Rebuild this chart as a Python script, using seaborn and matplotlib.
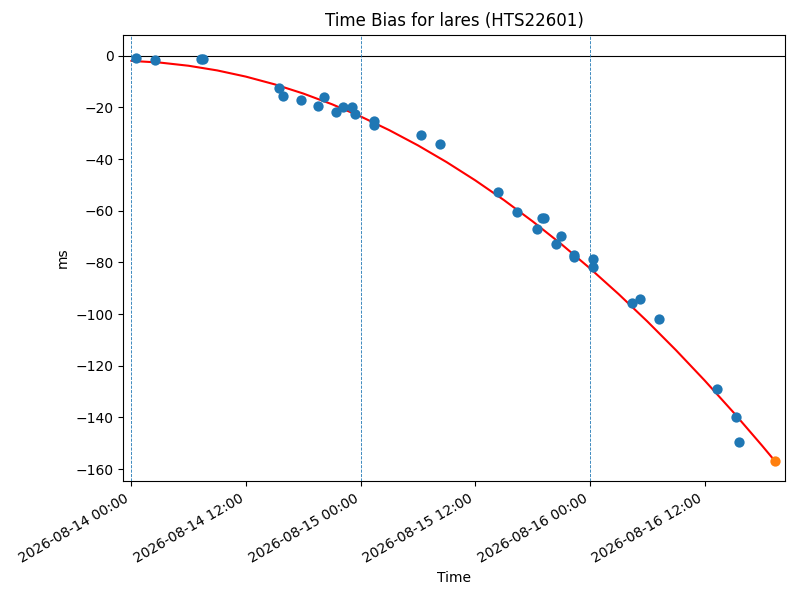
import pandas as pd
import seaborn as sns
import matplotlib
matplotlib.use("Agg")
import matplotlib.pyplot as plt
import matplotlib.dates as mdates

start = pd.Timestamp("2026-08-14 00:00")

# measured time bias (hours after start, ms)
obs_hours = [0.52, 2.44, 7.3, 7.5, 15.51, 15.86, 17.78, 19.59, 20.22, 21.44,
             22.2, 23.08, 23.46, 25.41, 25.41, 30.33, 32.31, 38.41, 40.4,
             42.42, 42.95, 43.15, 44.41, 45.0, 46.36, 46.36, 48.35, 48.35,
             52.43, 53.26, 55.25, 61.28, 63.27, 63.62]
obs_ms = [-0.9, -1.7, -1.3, -1.3, -12.5, -15.6, -17.2, -19.4, -16.0, -21.8,
          -19.8, -19.8, -22.6, -25.2, -27.0, -30.6, -34.1, -52.8, -60.4,
          -67.1, -62.9, -62.9, -73.0, -69.7, -77.2, -78.1, -78.6, -81.9,
          -95.8, -94.3, -102.0, -129.1, -140.0, -149.7]

# fitted curve
fit_hours = [0, 3, 6, 9, 12, 15, 18, 21, 24, 27, 30, 33, 36, 39, 42, 45,
             48, 51, 54, 57, 60, 63, 66, 67.38]
fit_ms = [-2.0, -2.65, -3.88, -5.69, -8.09, -11.07, -14.63, -18.77, -23.5,
          -28.81, -34.7, -41.18, -48.24, -55.88, -64.11, -72.91, -82.3,
          -92.27, -102.83, -113.97, -125.69, -137.99, -150.88, -157.0]

pred_hours = [67.38]
pred_ms = [-157.0]

day_marks = ["2026-08-14", "2026-08-15", "2026-08-16"]

obs = pd.DataFrame({"Time": start + pd.to_timedelta(obs_hours, unit="h"), "ms": obs_ms})
fit = pd.DataFrame({"Time": start + pd.to_timedelta(fit_hours, unit="h"), "ms": fit_ms})
pred = pd.DataFrame({"Time": start + pd.to_timedelta(pred_hours, unit="h"), "ms": pred_ms})

sns.set_style("ticks", {"text.color": "black", "axes.labelcolor": "black",
                        "xtick.color": "black", "ytick.color": "black",
                        "axes.edgecolor": "black"})
plt.rcParams["font.family"] = ["DejaVu Sans"]
fig, ax = plt.subplots(figsize=(8, 6), dpi=100)

sns.scatterplot(data=obs, x="Time", y="ms", color="#1f77b4", s=55, linewidth=0, ax=ax, zorder=3)
sns.lineplot(data=fit, x="Time", y="ms", color="red", linewidth=1.5, ax=ax, zorder=2)
sns.scatterplot(data=pred, x="Time", y="ms", color="#ff7f0e", s=55, linewidth=0, ax=ax, zorder=4)

ax.axhline(0, color="black", linewidth=0.8)
for d in day_marks:
    ax.axvline(pd.Timestamp(d), color="#1f77b4", linestyle="--", linewidth=0.6)

ax.set_xlim(start - pd.Timedelta(hours=0.84), start + pd.Timedelta(hours=68.39))
ax.set_ylim(-164.7, 8.1)
ax.set_yticks(range(-160, 1, 20))
ax.xaxis.set_major_locator(mdates.HourLocator(byhour=[0, 12]))
ax.xaxis.set_major_formatter(mdates.DateFormatter("%Y-%m-%d %H:%M"))
plt.setp(ax.get_xticklabels(), rotation=30, ha="right")

ax.set_title("Time Bias for lares (HTS22601)")
ax.set_xlabel("Time")
ax.set_ylabel("ms")

plt.subplots_adjust(left=0.154, right=0.981, top=0.942, bottom=0.198)
plt.savefig("out.png")
